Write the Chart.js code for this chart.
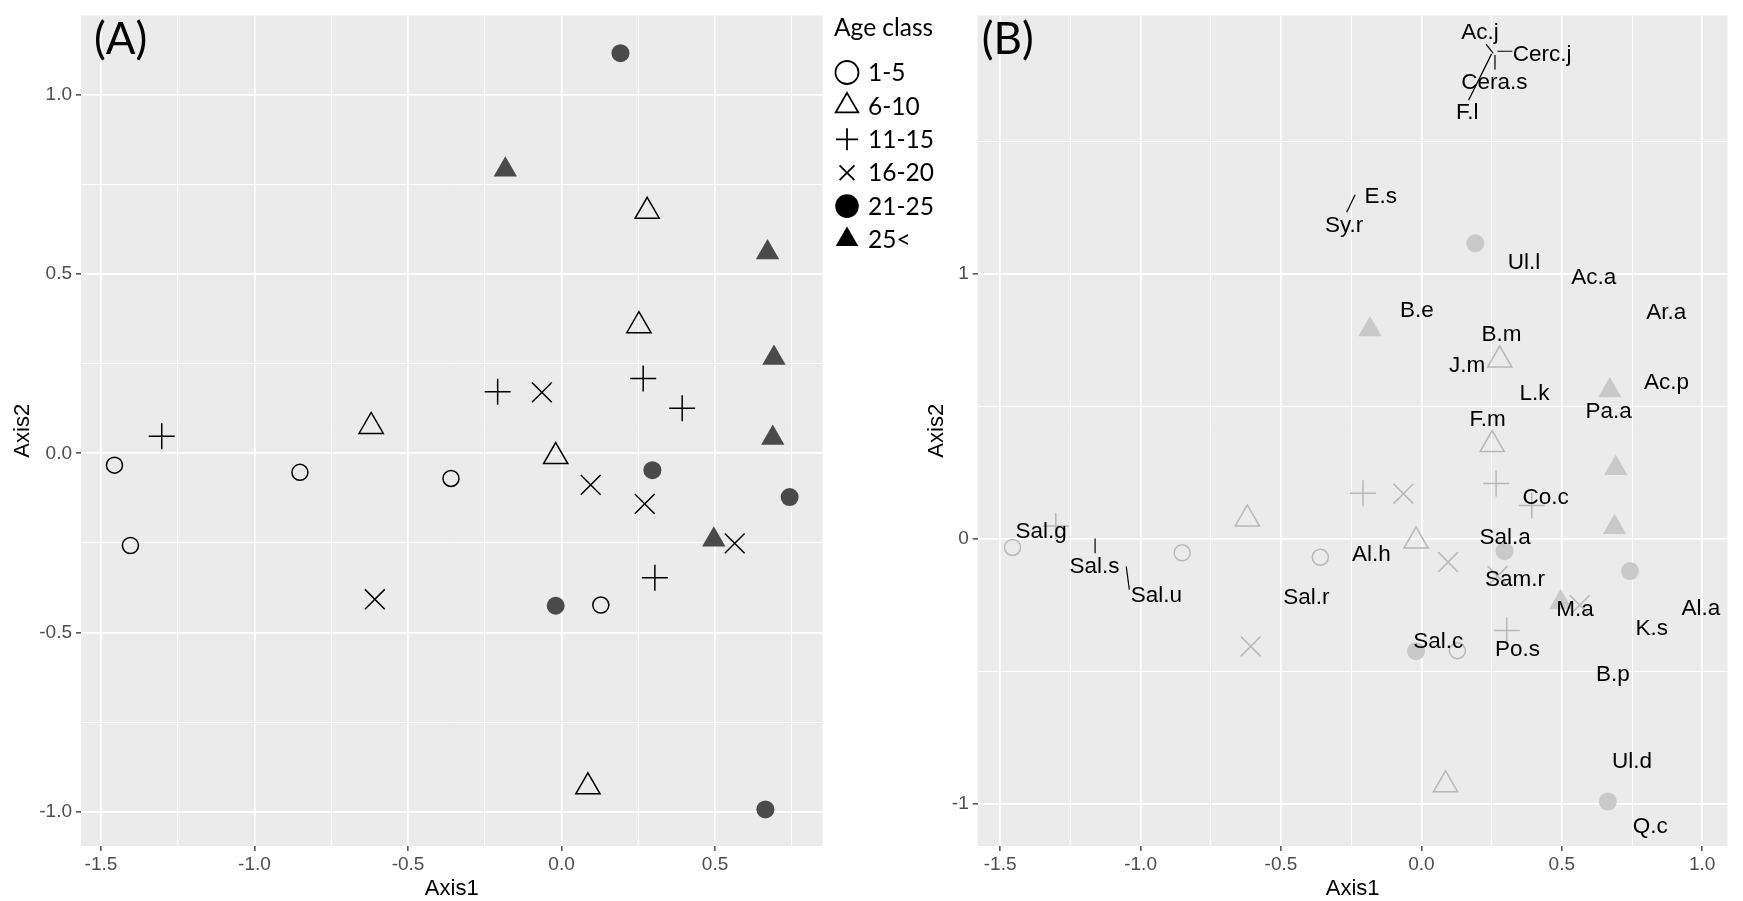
<!DOCTYPE html>
<html>
<head>
<meta charset="utf-8">
<script src="https://cdn.jsdelivr.net/npm/chart.js"></script>
<style>
  body { margin: 0; background: #fff; }
  #wrap { position: relative; width: 1743px; height: 901px; }
  canvas { position: absolute; top: 0; }
  #chartA { left: 0; }
  #chartB { left: 900px; }
</style>
</head>
<body>
<div id="wrap">
  <canvas id="chartA" width="940" height="901"></canvas>
  <canvas id="chartB" width="843" height="901"></canvas>
</div>
<script>
// age classes of the sites
const ageClasses = ["1-5", "6-10", "11-15", "16-20", "21-25", "25<"];

// site scores (Axis1 / Axis2) per age class
const x1to5 = [-1.456, -1.404, -0.852, -0.360, 0.128];
const y1to5 = [-0.033, -0.257, -0.053, -0.070, -0.423];
const x6to10 = [-0.620, -0.019, 0.252, 0.279, 0.086];
const y6to10 = [0.075, -0.009, 0.356, 0.675, -0.930];
const x11to15 = [-1.302, -0.208, 0.266, 0.393, 0.304];
const y11to15 = [0.048, 0.172, 0.209, 0.126, -0.347];
const x16to20 = [-0.608, -0.064, 0.095, 0.271, 0.564];
const y16to20 = [-0.407, 0.170, -0.088, -0.141, -0.251];
const x21to25 = [0.192, 0.296, 0.743, -0.019, 0.664];
const y21to25 = [1.116, -0.047, -0.122, -0.425, -0.993];
const x25plus = [-0.183, 0.671, 0.692, 0.688, 0.496];
const y25plus = [0.791, 0.560, 0.266, 0.043, -0.241];

// the second 1-5 site does not show up in panel B
const skipInB_1to5 = [1];

// species labels (label positions)
const speciesNames = ["Ac.j", "Cerc.j", "Cera.s", "F.l", "E.s", "Sy.r", "Ul.l", "Ac.a", "B.e", "Ar.a",
  "B.m", "J.m", "Ac.p", "L.k", "Pa.a", "F.m", "Sal.g", "Sal.s", "Sal.u", "Sal.r", "Co.c", "Al.h",
  "Sal.a", "Sam.r", "M.a", "Al.a", "K.s", "Sal.c", "Po.s", "B.p", "Ul.d", "Q.c"];
const speciesX = [0.209, 0.430, 0.260, 0.163, -0.145, -0.275, 0.365, 0.614, -0.016, 0.872,
  0.285, 0.163, 0.873, 0.403, 0.667, 0.236, -1.354, -1.164, -0.944, -0.410, 0.442, -0.178,
  0.298, 0.333, 0.547, 0.995, 0.820, 0.060, 0.342, 0.682, 0.750, 0.815];
const speciesY = [1.910, 1.829, 1.723, 1.610, 1.293, 1.181, 1.043, 0.985, 0.860, 0.854,
  0.770, 0.655, 0.589, 0.549, 0.480, 0.449, 0.026, -0.105, -0.217, -0.223, 0.154, -0.061,
  0.004, -0.155, -0.269, -0.263, -0.341, -0.391, -0.420, -0.516, -0.842, -1.089];

// repel segments (label end -> species point)
const segX1 = [0.230, 0.324, 0.262, 0.168, -0.266, -1.162, -1.051];
const segY1 = [1.869, 1.842, 1.828, 1.657, 1.234, 0.001, -0.105];
const segX2 = [0.256, 0.271, 0.262, 0.250, -0.236, -1.162, -1.040];
const segY2 = [1.834, 1.842, 1.773, 1.832, 1.300, -0.055, -0.192];

// ticks
const majorAx = [-1.5, -1, -0.5, 0, 0.5];
const minorAx = [-1.25, -0.75, -0.25, 0.25, 0.75];
const majorAy = [-1, -0.5, 0, 0.5, 1];
const minorAy = [-0.75, -0.25, 0.25, 0.75];
const majorBx = [-1.5, -1, -0.5, 0, 0.5, 1];
const minorBx = [-1.25, -0.75, -0.25, 0.25, 0.75];
const majorBy = [-1, 0, 1];
const minorBy = [-0.5, 0.5, 1.5];

const xs = [x1to5, x6to10, x11to15, x16to20, x21to25, x25plus];
const ys = [y1to5, y6to10, y11to15, y16to20, y21to25, y25plus];

Chart.defaults.font.family = "'Liberation Sans', Arial, sans-serif";

const shapes = [
  { pointStyle: "circle", radius: 8, filled: false },
  { pointStyle: "triangle", radius: 14, filled: false },
  { pointStyle: "cross", radius: 13, filled: false },
  { pointStyle: "crossRot", radius: 14, filled: false },
  { pointStyle: "circle", radius: 9, filled: true },
  { pointStyle: "triangle", radius: 13.5, filled: true },
];

function siteDatasets(lineCol, fillCol, skipFirst) {
  return ageClasses.map((name, i) => {
    let pts = xs[i].map((v, j) => ({ x: v, y: ys[i][j] }));
    if (i === 0 && skipFirst) pts = pts.filter((p, j) => !skipFirst.includes(j));
    return {
      label: name,
      data: pts,
      pointStyle: shapes[i].pointStyle,
      pointRadius: shapes[i].radius,
      pointBackgroundColor: shapes[i].filled ? fillCol : "rgba(0,0,0,0)",
      pointBorderColor: lineCol,
      pointBorderWidth: shapes[i].filled ? 0 : 1.5,
    };
  });
}

function axis(title, min, max, major, minor, digits, isY, titlePad, size) {
  const isMajor = (c) => c.tick && major.includes(c.tick.value);
  return {
    type: "linear",
    min: min,
    max: max,
    afterBuildTicks: (s) => {
      s.ticks = major.concat(minor).sort((a, b) => a - b).map((v) => ({ value: v }));
    },
    afterFit: (s) => {
      if (isY) s.width = size;
      else s.height = size;
    },
    ticks: {
      autoSkip: false,
      maxRotation: 0,
      color: "#4d4d4d",
      font: { size: 19 },
      padding: isY ? 4 : 2,
      callback: (v) => (major.includes(v) ? v.toFixed(digits) : ""),
    },
    grid: {
      color: "#ffffff",
      lineWidth: (c) => (isMajor(c) ? 1.7 : 1),
      tickColor: (c) => (isMajor(c) ? "#333333" : "rgba(0,0,0,0)"),
      tickLength: 5,
      tickWidth: 1.3,
    },
    border: { display: false },
    title: {
      display: true,
      text: title,
      color: "#000",
      font: { size: 22, lineHeight: 1.1 },
      padding: { top: titlePad, bottom: 0 },
    },
  };
}

const panelBg = {
  id: "panelBg",
  beforeDraw(chart) {
    const { ctx, chartArea: a } = chart;
    ctx.save();
    ctx.fillStyle = "#ebebeb";
    ctx.fillRect(a.left, a.top, a.width, a.height);
    ctx.restore();
  },
};

const panelTag = {
  id: "panelTag",
  afterDraw(chart, args, opts) {
    const { ctx, chartArea: a } = chart;
    ctx.save();
    ctx.font = "44px Lato";
    ctx.fillStyle = "#000";
    ctx.textAlign = "left";
    ctx.textBaseline = "middle";
    ctx.fillText(opts.text, a.left + opts.dx, 40);
    ctx.restore();
  },
};

// legend for panel A (drawn beside the plot, like ggplot)
const legendRadius = [11.5, 13, 11, 10.5, 11.8, 13];
const ageLegend = {
  id: "ageLegend",
  afterDraw(chart) {
    const ctx = chart.ctx;
    const left = chart.chartArea.right + 11.5;
    ctx.save();
    ctx.fillStyle = "#000";
    ctx.textAlign = "left";
    ctx.textBaseline = "alphabetic";
    ctx.font = "24.5px Lato";
    ctx.fillText("Age class", left, 36);
    ctx.font = "24.5px Lato";
    ageClasses.forEach((name, i) => {
      const cy = 72.5 + i * 33.4;
      ctx.fillStyle = shapes[i].filled ? "#000" : "rgba(0,0,0,0)";
      ctx.strokeStyle = "#000";
      ctx.lineWidth = 1.8;
      Chart.helpers.drawPoint(ctx, {
        pointStyle: shapes[i].pointStyle,
        rotation: 0,
        radius: legendRadius[i],
        borderWidth: shapes[i].filled ? 0 : 1.8,
      }, left + 13, cy);
      ctx.fillStyle = "#000";
      ctx.fillText(name, left + 34, cy + 8.6);
    });
    ctx.restore();
  },
};

const speciesLabels = {
  id: "speciesLabels",
  afterDatasetsDraw(chart) {
    const { ctx, scales } = chart;
    ctx.save();
    ctx.font = "22.5px 'Liberation Sans'";
    ctx.fillStyle = "#000";
    ctx.textAlign = "center";
    ctx.textBaseline = "middle";
    speciesNames.forEach((n, i) => {
      ctx.fillText(n, scales.x.getPixelForValue(speciesX[i]), scales.y.getPixelForValue(speciesY[i]));
    });
    ctx.restore();
  },
};

const segmentSets = segX1.map((v, i) => ({
  data: [{ x: v, y: segY1[i] }, { x: segX2[i], y: segY2[i] }],
  showLine: true,
  pointRadius: 0,
  borderColor: "#000",
  borderWidth: 1.2,
}));

const common = {
  responsive: false,
  animation: false,
  events: [],
};

new Chart(document.getElementById("chartA"), {
  type: "scatter",
  data: { datasets: siteDatasets("#000000", "#4a4a4a") },
  options: {
    ...common,
    layout: { padding: { left: 0, right: 117.5, top: 6, bottom: 0 } },
    scales: {
      x: axis("Axis1", -1.565, 0.85, majorAx, minorAx, 1, false, 0, 55),
      y: axis("Axis2", -1.095, 1.221, majorAy, minorAy, 1, true, 11, 81),
    },
    plugins: {
      legend: { display: false },
      tooltip: { enabled: false },
      panelTag: { text: "(A)", dx: 13 },
    },
  },
  plugins: [panelBg, panelTag, ageLegend],
});

new Chart(document.getElementById("chartB"), {
  type: "scatter",
  data: { datasets: segmentSets.concat(siteDatasets("#b8b8b8", "#c9c9c9", skipInB_1to5)) },
  options: {
    ...common,
    layout: { padding: { left: 0, right: 7, top: 6, bottom: 0 } },
    scales: {
      x: axis("Axis1", -1.58, 1.09, majorBx, minorBx, 1, false, 0, 55),
      y: axis("Axis2", -1.161, 1.977, majorBy, minorBy, 0, true, 25, 77.7),
    },
    plugins: {
      legend: { display: false },
      tooltip: { enabled: false },
      panelTag: { text: "(B)", dx: 4 },
    },
  },
  plugins: [panelBg, panelTag, speciesLabels],
});
</script>
</body>
</html>
